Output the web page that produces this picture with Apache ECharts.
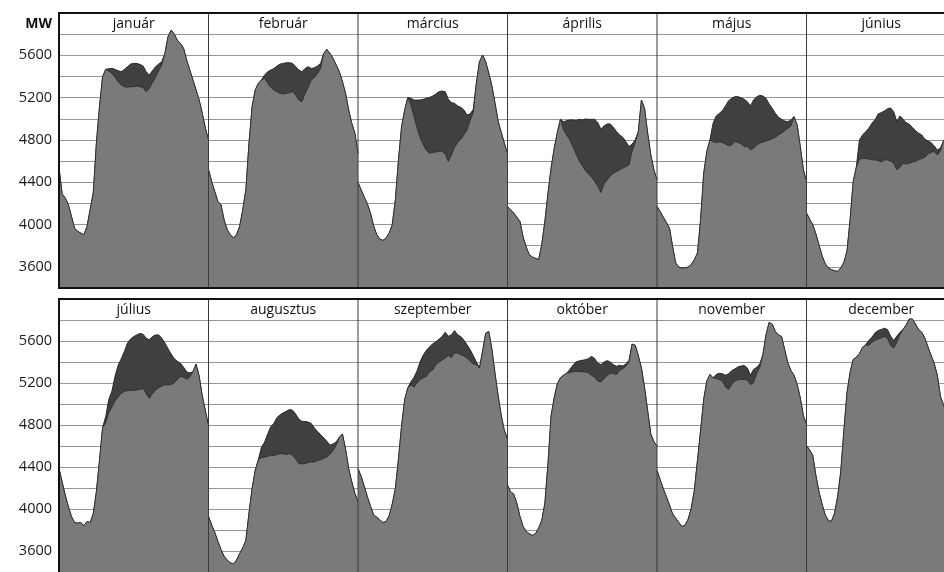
<!DOCTYPE html>
<html><head><meta charset="utf-8">
<script src="https://cdn.jsdelivr.net/npm/echarts@6/dist/echarts.min.js"></script>
<style>html,body{margin:0;padding:0;background:#fff;overflow:hidden}#c{width:960px;height:572px}</style>
</head><body><div id="c"></div>
<script>
const monthNames = ['január','február','március','április','május','június','július','augusztus','szeptember','október','november','december'];
const yTickLabels = [3600,4000,4400,4800,5200,5600];
const unitLabel = 'MW';

// half-hourly values 00:00 .. 24:00 (MW); "Total" = upper curve, "Net" = lower curve
const januarTotal = [4533,4290,4250,4187,4077,3966,3935,3919,3903,3982,4140,4297,4768,5114,5397,5467,5473,5476,5467,5454,5445,5467,5492,5517,5523,5523,5514,5498,5445,5413,5454,5492,5517,5539,5618,5775,5838,5800,5743,5712,5665,5555,5460,5366,5272,5177,5051,4910,4800];
const januarNet   = [4533,4290,4250,4187,4077,3966,3935,3919,3903,3982,4140,4297,4768,5114,5397,5467,5451,5429,5391,5350,5319,5303,5297,5303,5303,5309,5303,5294,5256,5287,5340,5391,5454,5508,5618,5775,5838,5800,5743,5712,5665,5555,5460,5366,5272,5177,5051,4910,4800];
const februarTotal = [4520,4407,4313,4218,4187,4045,3951,3903,3872,3903,3982,4140,4328,4768,5114,5272,5334,5366,5413,5445,5460,5476,5498,5517,5523,5530,5530,5523,5492,5460,5445,5476,5492,5476,5482,5500,5523,5618,5655,5618,5570,5508,5445,5350,5240,5083,4957,4863,4674];
const februarNet   = [4520,4407,4313,4218,4187,4045,3951,3903,3872,3903,3982,4140,4328,4768,5114,5272,5334,5366,5382,5334,5297,5272,5256,5240,5234,5240,5246,5256,5224,5177,5162,5240,5297,5366,5391,5429,5476,5618,5655,5618,5570,5508,5445,5350,5240,5083,4957,4863,4674];
const marciusTotal = [4397,4328,4259,4196,4108,3989,3904,3863,3850,3872,3919,3998,4234,4611,4926,5083,5202,5193,5177,5177,5177,5184,5193,5202,5215,5234,5256,5262,5256,5184,5152,5146,5121,5108,5083,5036,5045,5089,5335,5539,5602,5539,5429,5309,5146,4973,4869,4768,4668];
const marciusNet   = [4397,4328,4259,4196,4108,3989,3904,3863,3850,3872,3919,3998,4234,4611,4926,5083,5202,5130,5020,4910,4816,4753,4699,4674,4680,4687,4690,4690,4668,4595,4658,4731,4775,4806,4847,4894,4982,5058,5335,5539,5602,5539,5429,5309,5146,4973,4869,4768,4668];
const aprilisTotal = [4171,4139,4108,4070,4029,3881,3787,3715,3693,3680,3668,3809,4029,4297,4533,4721,4869,4995,4973,4982,4989,4989,4982,4995,4989,4998,4995,4995,4995,4963,4901,4932,4951,4951,4919,4879,4847,4825,4784,4737,4760,4800,4878,5177,5099,4863,4658,4517,4422];
const aprilisNet   = [4171,4139,4108,4070,4029,3881,3787,3715,3693,3680,3668,3809,4029,4297,4533,4721,4869,4995,4894,4847,4800,4737,4668,4605,4555,4511,4479,4448,4407,4360,4303,4385,4422,4460,4485,4501,4517,4533,4548,4564,4690,4775,4878,5177,5099,4863,4658,4517,4422];
const majusTotal = [4171,4124,4070,4020,3966,3793,3636,3598,3589,3589,3598,3620,3668,3731,4045,4485,4690,4800,4957,5026,5051,5077,5121,5171,5193,5209,5209,5199,5184,5162,5121,5177,5209,5221,5215,5193,5140,5099,5051,5014,4995,4979,4973,4989,5020,4941,4737,4517,4407];
const majusNet   = [4171,4124,4070,4020,3966,3793,3636,3598,3589,3589,3598,3620,3668,3731,4045,4485,4690,4800,4784,4775,4781,4775,4762,4743,4753,4784,4775,4762,4737,4737,4706,4721,4753,4768,4781,4787,4800,4812,4825,4847,4863,4888,4910,4932,5020,4941,4737,4517,4407];
const juniusTotal = [4108,4051,3998,3913,3809,3705,3629,3588,3573,3563,3557,3589,3642,3746,4045,4406,4542,4800,4847,4878,4910,4957,4989,5045,5058,5073,5095,5102,5067,4973,5026,4995,4963,4948,4919,4888,4863,4847,4806,4790,4775,4743,4705,4721,4793,4830,4800,4700,4500];
const juniusNet   = [4108,4051,3998,3913,3809,3705,3629,3588,3573,3563,3557,3589,3642,3746,4045,4406,4542,4617,4624,4624,4620,4611,4611,4605,4592,4611,4611,4598,4580,4517,4542,4580,4573,4580,4589,4598,4611,4624,4636,4668,4683,4690,4658,4696,4793,4830,4800,4700,4500];
const juliusTotal = [4384,4258,4132,4022,3928,3871,3865,3871,3840,3881,3871,3953,4164,4463,4777,4880,5045,5123,5265,5369,5432,5501,5580,5620,5642,5658,5671,5664,5627,5611,5642,5658,5658,5627,5580,5526,5476,5432,5406,5388,5350,5306,5296,5306,5381,5265,5076,4934,4793];
const juliusNet   = [4384,4258,4132,4022,3928,3871,3865,3871,3840,3881,3871,3953,4164,4463,4777,4820,4919,4972,5029,5070,5101,5120,5126,5130,5130,5133,5139,5148,5098,5054,5098,5133,5155,5170,5183,5180,5186,5199,5233,5262,5255,5237,5255,5306,5381,5265,5076,4934,4793];
const augusztusTotal = [3928,3849,3777,3692,3613,3550,3513,3487,3478,3513,3575,3629,3701,3959,4195,4368,4469,4588,4636,4714,4784,4815,4872,4897,4916,4931,4947,4941,4903,4856,4834,4834,4828,4815,4771,4739,4708,4677,4645,4607,4620,4639,4683,4714,4573,4384,4258,4148,4069];
const augusztusNet   = [3928,3849,3777,3692,3613,3550,3513,3487,3478,3513,3575,3629,3701,3959,4195,4368,4469,4488,4494,4500,4510,4510,4519,4526,4526,4519,4526,4513,4475,4431,4431,4431,4444,4447,4447,4463,4469,4482,4497,4522,4557,4607,4683,4714,4573,4384,4258,4148,4069];
const szeptemberTotal = [4384,4312,4217,4117,4028,3944,3922,3896,3871,3881,3934,4047,4195,4478,4793,5045,5155,5211,5255,5318,5406,5469,5513,5545,5573,5592,5617,5642,5683,5645,5658,5699,5658,5642,5608,5564,5517,5460,5400,5344,5501,5674,5690,5517,5287,5076,4887,4746,4667];
const szeptemberNet   = [4384,4312,4217,4117,4028,3944,3922,3896,3871,3881,3934,4047,4195,4478,4793,5045,5155,5180,5161,5202,5233,5249,5265,5306,5325,5375,5400,5419,5438,5463,5444,5485,5485,5469,5457,5438,5406,5381,5375,5344,5501,5674,5690,5517,5287,5076,4887,4746,4667];
const oktoberTotal = [4227,4164,4142,4054,3928,3834,3786,3764,3748,3764,3818,3890,4054,4431,4887,5060,5192,5249,5274,5293,5328,5369,5400,5410,5416,5422,5432,5454,5432,5388,5375,5400,5413,5400,5375,5359,5369,5362,5381,5415,5570,5560,5460,5344,5155,4935,4715,4642,4598];
const oktoberNet   = [4227,4164,4142,4054,3928,3834,3786,3764,3748,3764,3818,3890,4054,4431,4887,5060,5192,5249,5274,5293,5300,5306,5312,5309,5306,5306,5296,5274,5255,5218,5211,5240,5274,5293,5287,5281,5318,5337,5359,5400,5570,5560,5460,5344,5155,4935,4715,4642,4598];
const novemberTotal = [4368,4280,4195,4117,4038,3953,3912,3871,3833,3846,3903,4006,4180,4463,4746,5045,5218,5281,5249,5281,5293,5287,5274,5287,5318,5334,5353,5362,5366,5344,5274,5328,5350,5381,5469,5658,5778,5759,5690,5658,5642,5517,5391,5318,5274,5186,5060,4887,4809];
const novemberNet   = [4368,4280,4195,4117,4038,3953,3912,3871,3833,3846,3903,4006,4180,4463,4746,5045,5218,5281,5249,5243,5233,5218,5161,5139,5186,5218,5230,5233,5233,5227,5186,5202,5290,5350,5469,5658,5778,5759,5690,5658,5642,5517,5391,5318,5274,5186,5060,4887,4809];
const decemberTotal = [4604,4563,4510,4321,4164,4047,3944,3890,3881,3959,4117,4353,4746,5108,5300,5425,5445,5480,5540,5565,5605,5636,5677,5699,5709,5721,5709,5646,5605,5646,5683,5709,5753,5809,5809,5762,5709,5683,5627,5542,5463,5385,5274,5070,4991,4900,4800,4700,4600];
const decemberNet   = [4604,4563,4510,4321,4164,4047,3944,3890,3881,3959,4117,4353,4746,5108,5300,5425,5445,5480,5540,5565,5558,5589,5605,5620,5630,5643,5627,5558,5532,5589,5658,5709,5753,5809,5809,5762,5709,5683,5627,5542,5463,5385,5274,5070,4991,4900,4800,4700,4600];

const totals = [januarTotal,februarTotal,marciusTotal,aprilisTotal,majusTotal,juniusTotal,juliusTotal,augusztusTotal,szeptemberTotal,oktoberTotal,novemberTotal,decemberTotal];
const nets = [januarNet,februarNet,marciusNet,aprilisNet,majusNet,juniusNet,juliusNet,augusztusNet,szeptemberNet,oktoberNet,novemberNet,decemberNet];

const hours = [];
for (let i = 0; i <= 48; i++) hours.push(String(Math.floor(i / 2)).padStart(2, '0') + ':' + (i % 2 ? '30' : '00'));

const LEFT = 59, PW = 149.5, PH = 275, ROWTOP = [13, 299];
const grids = [], xAxes = [], yAxes = [], series = [], graphics = [];
for (let k = 0; k < 12; k++) {
  const r = Math.floor(k / 6), c = k % 6;
  grids.push({ left: LEFT + PW * c, top: ROWTOP[r], width: PW, height: PH, containLabel: false });
  xAxes.push({ type: 'category', gridIndex: k, data: hours, boundaryGap: false, show: false });
  yAxes.push({
    type: 'value', gridIndex: k, min: 3400, max: 6000, interval: 200,
    axisLine: { show: false }, axisTick: { show: false },
    splitLine: { show: true, lineStyle: { color: '#969696', width: 1 } },
    axisLabel: {
      show: c === 0, margin: 7, fontSize: 14.5, color: '#1a1a1a', fontFamily: 'Open Sans',
      formatter: v => yTickLabels.includes(v) ? String(v) : ''
    }
  });
  series.push({
    type: 'line', name: monthNames[k] + ' total', xAxisIndex: k, yAxisIndex: k, data: totals[k],
    symbol: 'none', lineStyle: { color: '#262626', width: 1 },
    areaStyle: { color: '#404040', opacity: 1, origin: 'start' }, z: 2, silent: true
  });
  series.push({
    type: 'line', name: monthNames[k] + ' net', xAxisIndex: k, yAxisIndex: k, data: nets[k],
    symbol: 'none', lineStyle: { color: '#2a2a2a', width: 0.8 },
    areaStyle: { color: '#7a7a7a', opacity: 1, origin: 'start' }, z: 3, silent: true
  });
  graphics.push({
    type: 'text', z: 10,
    style: { text: monthNames[k], x: LEFT + PW * c + PW / 2, y: ROWTOP[r] + 11, align: 'center', verticalAlign: 'middle',
      font: '14px "Open Sans"', fill: '#111' }
  });
  if (c > 0) {
    graphics.push({ type: 'line', z: 9, shape: { x1: LEFT + PW * c, y1: ROWTOP[r], x2: LEFT + PW * c, y2: ROWTOP[r] + PH },
      style: { stroke: '#3a3a3a', lineWidth: 1 } });
  }
}
for (let r = 0; r < 2; r++) {
  graphics.push({ type: 'rect', z: 11, shape: { x: LEFT, y: ROWTOP[r], width: PW * 6, height: PH },
    style: { fill: 'none', stroke: '#111', lineWidth: 2 } });
}
graphics.push({ type: 'text', z: 10, style: { text: unitLabel, x: 52, y: 24, align: 'right', verticalAlign: 'middle',
  font: 'bold 14px "Open Sans"', fill: '#111' } });

const chart = echarts.init(document.getElementById('c'), null, { renderer: 'canvas' });
chart.setOption({
  animation: false,
  backgroundColor: '#fff',
  grid: grids, xAxis: xAxes, yAxis: yAxes, series: series,
  graphic: { elements: graphics }
});
</script></body></html>
